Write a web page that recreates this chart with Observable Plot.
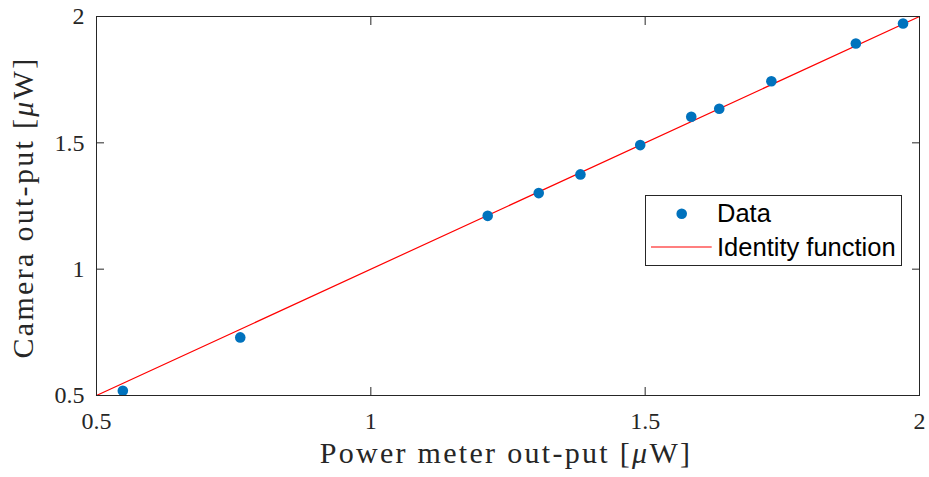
<!DOCTYPE html>
<html>
<head>
<meta charset="utf-8">
<script src="https://cdn.jsdelivr.net/npm/d3@7"></script>
<script src="https://cdn.jsdelivr.net/npm/@observablehq/plot@0.6"></script>
<style>
  html, body { margin: 0; padding: 0; background: #fff; }
  #chart { width: 929px; height: 477px; }
</style>
</head>
<body>
<div id="chart"></div>
<script>
// Data
const powerMeter = [0.548, 0.762, 1.213, 1.306, 1.382, 1.491, 1.584, 1.635, 1.730, 1.884, 1.970];
const cameraOut  = [0.519, 0.730, 1.211, 1.301, 1.375, 1.491, 1.603, 1.635, 1.744, 1.893, 1.972];
const axisDomain = [0.5, 2];
const tickValues = [0.5, 1, 1.5, 2];
const legendLabels = ["Data", "Identity function"];
const xTitle = "Power meter out-put";
const yTitle = "Camera out-put";

const points = powerMeter.map((x, i) => ({x, y: cameraOut[i]}));
const identity = axisDomain.map(v => ({x: v, y: v}));

const axisColor = "#262626";
const dotColor = "#0072BD";
const lineColor = "#FF0000";

const plot = Plot.plot({
  width: 929,
  height: 477,
  marginLeft: 96,
  marginRight: 10,
  marginTop: 16,
  marginBottom: 82,
  style: {fontFamily: "'Liberation Serif', serif", fontSize: "24px", color: axisColor, background: "#fff", overflow: "visible"},
  x: {domain: axisDomain, label: null},
  y: {domain: axisDomain, label: null},
  marks: [
    Plot.line(identity, {x: "x", y: "y", stroke: lineColor, strokeWidth: 1.2}),
    Plot.dot(points, {x: "x", y: "y", r: 5.3, fill: dotColor, stroke: "none"}),
    // inward ticks on all four sides
    Plot.axisX({anchor: "bottom", ticks: tickValues, tickSize: 8, dy: -8, text: null, stroke: axisColor, label: null}),
    Plot.axisX({anchor: "top", ticks: tickValues, tickSize: 8, dy: 8, text: null, stroke: axisColor, label: null}),
    Plot.axisY({anchor: "left", ticks: tickValues, tickSize: 8, dx: 8, text: null, stroke: axisColor, label: null}),
    Plot.axisY({anchor: "right", ticks: tickValues, tickSize: 8, dx: -8, text: null, stroke: axisColor, label: null}),
    // tick labels
    Plot.axisX({anchor: "bottom", ticks: tickValues, tickSize: 0, tickPadding: 16, tickFormat: d => String(d), label: null, fill: axisColor, fontSize: 24}),
    Plot.axisY({anchor: "left", ticks: tickValues, tickSize: 0, tickPadding: 12, tickFormat: d => String(d), label: null, fill: axisColor, fontSize: 24}),
    Plot.frame({stroke: axisColor, strokeWidth: 1})
  ]
});

document.getElementById("chart").appendChild(plot);

const svg = d3.select(plot);

// Axis titles
const xt = svg.append("text")
  .attr("x", 506).attr("y", 463)
  .attr("text-anchor", "middle")
  .attr("font-family", "'Liberation Serif', serif")
  .attr("font-size", 30)
  .attr("letter-spacing", 2.3)
  .attr("fill", axisColor);
xt.append("tspan").text(xTitle + " [");
xt.append("tspan").attr("font-style", "italic").text("μ");
xt.append("tspan").text("W]");

const yt = svg.append("text")
  .attr("transform", "translate(33,207.5) rotate(-90)")
  .attr("text-anchor", "middle")
  .attr("font-family", "'Liberation Serif', serif")
  .attr("font-size", 30)
  .attr("letter-spacing", 2.3)
  .attr("fill", axisColor);
yt.append("tspan").text(yTitle + " [");
yt.append("tspan").attr("font-style", "italic").text("μ");
yt.append("tspan").text("W]");

// Legend
const lg = svg.append("g")
  .attr("font-family", "'Liberation Sans', Arial, sans-serif")
  .attr("font-size", 25.5)
  .attr("text-anchor", "start");
lg.append("rect").attr("x", 645.5).attr("y", 195.5).attr("width", 256).attr("height", 70)
  .attr("fill", "#fff").attr("stroke", axisColor).attr("stroke-width", 1);
lg.append("circle").attr("cx", 681.7).attr("cy", 213.7).attr("r", 5.3).attr("fill", dotColor);
lg.append("line").attr("x1", 651).attr("x2", 711.7).attr("y1", 247).attr("y2", 247)
  .attr("stroke", lineColor).attr("stroke-width", 1.2);
lg.append("text").attr("x", 717).attr("y", 222).attr("text-anchor", "start").attr("fill", "#000").text(legendLabels[0]);
lg.append("text").attr("x", 717).attr("y", 256).attr("text-anchor", "start").attr("fill", "#000").text(legendLabels[1]);
</script>
</body>
</html>
